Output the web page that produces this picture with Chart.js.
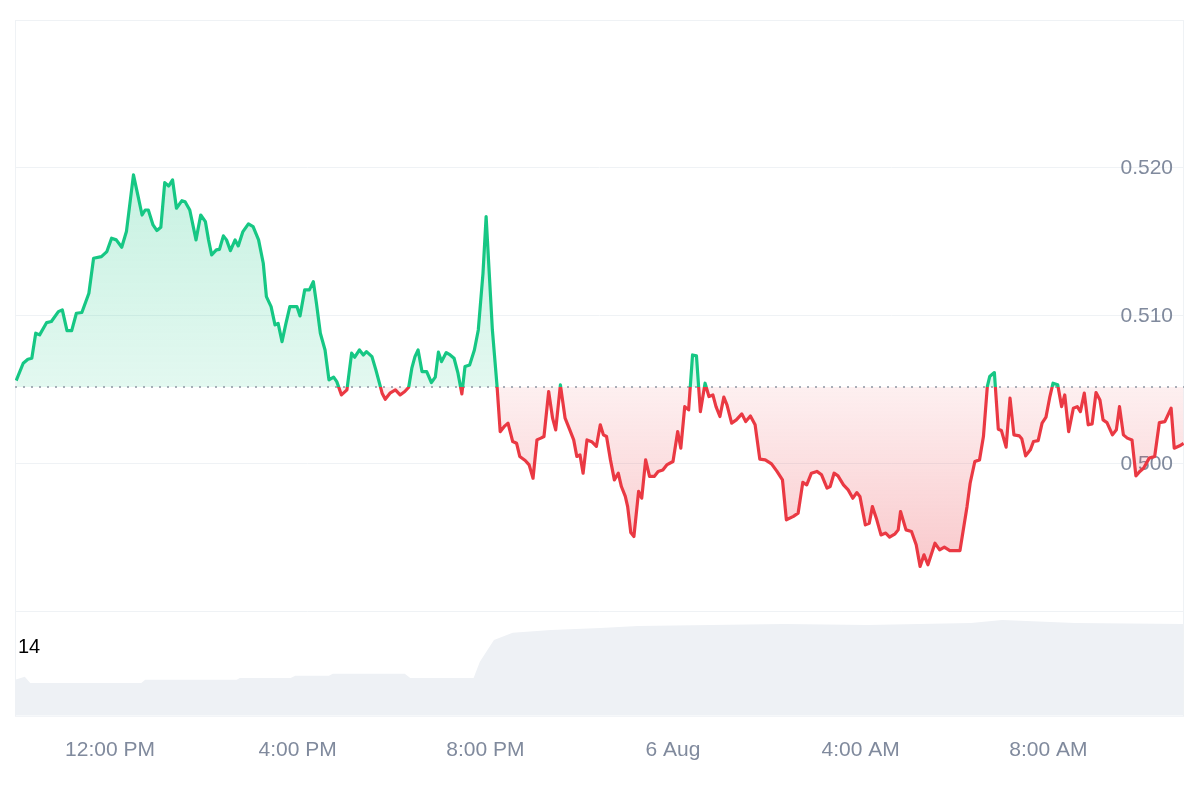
<!DOCTYPE html>
<html>
<head>
<meta charset="utf-8">
<title>Price chart</title>
<script src="https://cdn.jsdelivr.net/npm/chart.js@4/dist/chart.umd.min.js"></script>
<style>
	html, body { margin: 0; padding: 0; background: #fff; }
	#wrap { width: 1200px; height: 800px; }
</style>
</head>
<body>
<div id="wrap"><canvas id="chart" width="1200" height="800"></canvas></div>
<script>
	// minutes relative to 12:00 PM (5 Aug)
	var minutes = [
		-120, -111, -105, -100, -95, -90, -81, -75, -66, -61, -55, -49, -43, -36, -27, -21, -11, -4,
		2, 8, 15, 21, 30, 36, 41, 45, 49, 55, 60, 65, 70, 75, 80, 85, 92, 96, 102, 110, 116, 122,
		126, 130, 136, 140, 145, 149, 154, 160, 164, 170, 177, 183, 190, 196, 200, 206, 211, 215,
		220, 225, 230, 239, 243, 249, 255, 260, 264, 269, 275, 280, 286, 290, 296, 303, 309, 313,
		319, 324, 328, 335, 340, 348, 352, 358, 365,
		371, 377, 382, 386, 390, 394, 399, 405, 411, 416, 420, 424, 430, 435, 440, 445, 450, 454,
		460, 466, 471, 477, 481, 485, 489, 495, 499, 505, 509, 515, 520, 524, 531, 536, 541, 546,
		551, 555, 561, 566, 570, 576, 582, 588, 593, 597, 601, 605, 610, 616, 622, 627,
		631, 635, 640, 645, 650, 654, 659, 662, 666, 670, 676, 680, 685, 690, 696, 701, 707, 712,
		720, 726, 730, 735, 740, 745, 750, 755, 761, 766, 771, 775, 780, 785, 789, 795, 801, 808,
		813, 819, 825, 831, 838, 846, 853, 860,
		865, 874, 880, 886, 891, 897, 904, 910, 917, 921, 926, 931, 938, 944, 950, 955, 959, 966,
		971, 975, 980, 986, 992, 997, 1004, 1008, 1011, 1018, 1025, 1031, 1036, 1041, 1046, 1055,
		1061, 1067, 1074, 1087, 1096,
		1100, 1106, 1112, 1117, 1122, 1125, 1131, 1136, 1140, 1146, 1151, 1156, 1163, 1166, 1171,
		1177, 1181, 1187, 1192, 1197, 1202, 1206, 1212, 1217, 1221, 1226, 1232, 1237, 1241, 1246,
		1251, 1256, 1261, 1266, 1270, 1275, 1282, 1287, 1291, 1296, 1301, 1307, 1312, 1317, 1322,
		1329, 1336, 1342, 1349, 1357, 1361, 1368, 1373
	];
	var price = [
		0.50563, 0.50680, 0.50707, 0.50714, 0.50883, 0.50872, 0.50955, 0.50962, 0.51029, 0.51041,
		0.50901, 0.50901, 0.51018, 0.51023, 0.51153, 0.51390, 0.51401, 0.51435,
		0.51525, 0.51514, 0.51464, 0.51570, 0.51953, 0.51806, 0.51682, 0.51716, 0.51716, 0.51615,
		0.51577, 0.51599, 0.51901, 0.51878, 0.51919, 0.51728, 0.51779, 0.51772, 0.51716, 0.51514,
		0.51682, 0.51637,
		0.51514, 0.51412, 0.51446, 0.51450, 0.51541, 0.51514, 0.51441, 0.51514, 0.51473, 0.51570,
		0.51622, 0.51604, 0.51514, 0.51356, 0.51130, 0.51063, 0.50939, 0.50950,
		0.50826, 0.50950, 0.51063, 0.51063, 0.51000, 0.51176, 0.51176, 0.51232, 0.51086, 0.50883,
		0.50770, 0.50568, 0.50586, 0.50556, 0.50466, 0.50500, 0.50748, 0.50721,
		0.50770, 0.50736, 0.50759, 0.50725, 0.50635, 0.50478, 0.50437, 0.50478, 0.50500,
		0.50466, 0.50489, 0.50518, 0.50647, 0.50725, 0.50770, 0.50624, 0.50624, 0.50550, 0.50586,
		0.50755, 0.50691, 0.50752, 0.50736, 0.50714, 0.50613, 0.50473, 0.50658,
		0.50669, 0.50770, 0.50905, 0.51288, 0.51671, 0.51288, 0.50905, 0.50523, 0.50218, 0.50257,
		0.50275, 0.50151, 0.50139, 0.50050, 0.50023, 0.49993, 0.49903, 0.50162,
		0.50174, 0.50185, 0.50489, 0.50309, 0.50230, 0.50534, 0.50309, 0.50230, 0.50162, 0.50050,
		0.50061, 0.49937, 0.50162, 0.50150, 0.50118, 0.50264,
		0.50196, 0.50185, 0.50027, 0.49892, 0.49937, 0.49847, 0.49780, 0.49711, 0.49536, 0.49509,
		0.49814, 0.49768, 0.50027, 0.49915, 0.49915, 0.49949, 0.49959, 0.49993,
		0.50016, 0.50218, 0.50106, 0.50387, 0.50365, 0.50736, 0.50730, 0.50353, 0.50545, 0.50455,
		0.50466, 0.50387, 0.50320, 0.50451, 0.50399, 0.50275, 0.50297, 0.50338,
		0.50286, 0.50324, 0.50264, 0.50032, 0.50027, 0.50000, 0.49949, 0.49892,
		0.49622, 0.49645, 0.49667, 0.49875, 0.49858, 0.49937, 0.49949, 0.49926, 0.49836, 0.49847,
		0.49937, 0.49919, 0.49858, 0.49824, 0.49768, 0.49806, 0.49780, 0.49588,
		0.49599, 0.49711, 0.49633, 0.49520, 0.49532, 0.49505, 0.49527, 0.49554, 0.49678, 0.49554,
		0.49543, 0.49453, 0.49307, 0.49385, 0.49318, 0.49464,
		0.49419, 0.49437, 0.49414, 0.49414, 0.49711,
		0.49869, 0.50016, 0.50027, 0.50185, 0.50523, 0.50590, 0.50617, 0.50234, 0.50225, 0.50113,
		0.50444, 0.50196, 0.50189, 0.50170, 0.50054,
		0.50095, 0.50151, 0.50157, 0.50275, 0.50316, 0.50455, 0.50545, 0.50534, 0.50387, 0.50466,
		0.50218, 0.50376, 0.50387, 0.50353, 0.50478,
		0.50264, 0.50270, 0.50482, 0.50432, 0.50297, 0.50279, 0.50196, 0.50230, 0.50387, 0.50196,
		0.50174, 0.50162, 0.49919, 0.49949, 0.49972,
		0.50039, 0.50050, 0.50279, 0.50286, 0.50376, 0.50106, 0.50122, 0.50139
	];

	// volume (arbitrary units), own time grid
	var volMinutes = [-122, -109, -102, 40, 45, 162, 166, 231, 237, 280, 285, 377, 384, 465, 473, 491, 515, 564, 627, 675, 862, 969, 1101, 1141, 1234, 1373];
	var volume = [34.6, 37.5, 31.7, 31.7, 34.6, 34.6, 36.5, 36.5, 38.5, 38.5, 40.4, 40.4, 36.5, 36.5, 52, 73, 80, 82.7, 84.6, 86.5, 88.5, 87.5, 89.4, 92.3, 89.4, 88.5];

	var baseline = 0.5052;
	var xTickValues = [0, 240, 480, 720, 960, 1200];
	var xTickLabels = ['12:00 PM', '4:00 PM', '8:00 PM', '6 Aug', '4:00 AM', '8:00 AM'];
	var yTickValues = [0.49, 0.50, 0.51, 0.52, 0.53];
	var volLabel = '14';

	var GREEN = '22,199,132';
	var RED = '234,57,67';
	var FONT = '"Liberation Sans", Arial, sans-serif';

	function toPoints(xs, ys) {
		return xs.map(function(x, i) { return { x: x, y: ys[i] }; });
	}

	// vertical gradient with a hard switch at the baseline
	function splitGradient(chart, topColor, baseTop, baseBottom, bottomColor) {
		var area = chart.chartArea;
		if (!area) return null;
		var yScale = chart.scales.y;
		var top = area.top;
		var bottom = yScale.getPixelForValue(0.49);
		var by = yScale.getPixelForValue(baseline);
		var p = Math.min(1, Math.max(0, (by - top) / (bottom - top)));
		var g = chart.ctx.createLinearGradient(0, top, 0, bottom);
		g.addColorStop(0, topColor);
		g.addColorStop(p, baseTop);
		g.addColorStop(Math.min(1, p + 0.0001), baseBottom);
		g.addColorStop(1, bottomColor);
		return g;
	}

	var framePlugin = {
		id: 'frame',
		beforeDatasetsDraw: function(chart) {
			var ctx = chart.ctx, a = chart.chartArea;
			ctx.save();
			ctx.strokeStyle = '#eff2f5';
			ctx.lineWidth = 1;
			ctx.strokeRect(a.left + 0.5, a.top + 0.5, a.right - a.left - 1, a.bottom - a.top);
			ctx.restore();
		},
		// dotted baseline: after the fill, before the price line
		beforeDatasetDraw: function(chart, args) {
			if (args.index !== 0) return;
			var ctx = chart.ctx, a = chart.chartArea;
			var by = chart.scales.y.getPixelForValue(baseline);
			ctx.save();
			ctx.beginPath();
			ctx.setLineDash([2, 6]);
			ctx.strokeStyle = '#8d95a3';
			ctx.lineWidth = 1.5;
			ctx.moveTo(a.left, by);
			ctx.lineTo(a.right, by);
			ctx.stroke();
			ctx.restore();
		},
		afterDraw: function(chart) {
			var ctx = chart.ctx, a = chart.chartArea;
			ctx.save();
			ctx.fillStyle = '#000';
			ctx.font = '20px ' + FONT;
			ctx.textAlign = 'left';
			ctx.textBaseline = 'middle';
			ctx.fillText(volLabel, a.left + 3, 647);
			ctx.restore();
		}
	};

	new Chart(document.getElementById('chart'), {
		type: 'line',
		data: {
			datasets: [{
				label: 'Price',
				data: toPoints(minutes, price),
				yAxisID: 'y',
				order: 1,
				borderWidth: 3.2,
				borderJoinStyle: 'round',
				pointRadius: 0,
				tension: 0,
				borderColor: function(c) {
					return splitGradient(c.chart, 'rgb(' + GREEN + ')', 'rgb(' + GREEN + ')', 'rgb(' + RED + ')', 'rgb(' + RED + ')') || 'rgb(' + GREEN + ')';
				},
				backgroundColor: function(c) {
					return splitGradient(c.chart,
						'rgba(' + GREEN + ',0.32)', 'rgba(' + GREEN + ',0.12)',
						'rgba(' + RED + ',0.08)', 'rgba(' + RED + ',0.32)') || 'transparent';
				},
				fill: { target: { value: baseline } }
			}, {
				label: 'Volume',
				data: toPoints(volMinutes, volume),
				yAxisID: 'yVol',
				order: 2,
				borderWidth: 0,
				pointRadius: 0,
				backgroundColor: '#eef1f5',
				fill: 'origin'
			}]
		},
		options: {
			responsive: false,
			animation: false,
			layout: { padding: { left: 15, right: 16, top: 20, bottom: 23 } },
			plugins: { legend: { display: false }, tooltip: { enabled: false } },
			scales: {
				x: {
					type: 'linear',
					min: -121.5,
					max: 1373.5,
					grid: { display: false },
					border: { display: false },
					afterBuildTicks: function(axis) {
						axis.ticks = xTickValues.map(function(v) { return { value: v }; });
					},
					ticks: {
						autoSkip: false,
						maxRotation: 0,
						padding: 14,
						color: '#808a9d',
						font: { family: FONT, size: 21 },
						callback: function(v) {
							var i = xTickValues.indexOf(v);
							return i >= 0 ? xTickLabels[i] : '';
						}
					}
				},
				y: {
					position: 'right',
					min: 0.482973,
					max: 0.530,
					grid: { color: '#eff2f5', drawTicks: false },
					border: { display: false },
					afterFit: function(axis) { axis.width = 0; },
					afterBuildTicks: function(axis) {
						axis.ticks = yTickValues.map(function(v) { return { value: v }; });
					},
					ticks: {
						mirror: true,
						padding: -11,
						color: '#808a9d',
						font: { family: FONT, size: 21 },
						callback: function(v) {
							if (v < 0.495 || v > 0.525) return '';
							return v.toFixed(3);
						}
					}
				},
				yVol: {
					display: false,
					min: 0,
					max: 670
				}
			}
		},
		plugins: [framePlugin]
	});
</script>
</body>
</html>
